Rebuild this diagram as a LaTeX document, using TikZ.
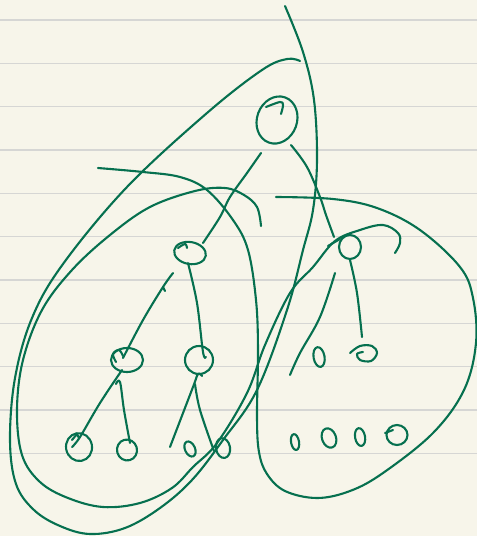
\documentclass[tikz,border=0pt]{standalone}
\definecolor{paper}{HTML}{F7F5EA}
\definecolor{rule}{HTML}{D6D6D4}
\definecolor{ink}{HTML}{06704F}
\begin{document}
\begin{tikzpicture}[x=1pt,y=-1pt,
  inkline/.style={draw=ink,line width=2.1pt,line cap=round,line join=round},
  ruleline/.style={draw=rule,line width=1.4pt},
  curve/.style={smooth,tension=0.6}]
\fill[paper] (0,0) rectangle (477,536);
\useasboundingbox (0,0) rectangle (477,536);
% ruled paper
\foreach \yy in {20,63.3,106.7,150,193.3,236.7,280,323.3,366.7,410,453.3}
  \draw[ruleline] (0,\yy) -- (477,\yy);

% node centres
\coordinate (root) at (277,120);
\coordinate (l1) at (190,253);
\coordinate (r1) at (350,247);
\coordinate (ll) at (127,360);
\coordinate (lr) at (199,360);
\coordinate (rl) at (319,357);
\coordinate (rr) at (365,354);
\coordinate (a1) at (79,447);
\coordinate (a2) at (127,450);
\coordinate (a3) at (190,449);
\coordinate (a4) at (223,448);
\coordinate (b1) at (295,442);
\coordinate (b2) at (329,438);
\coordinate (b3) at (360,437);
\coordinate (b4) at (397,435);

% nodes
\draw[inkline,rotate around={-20:(root)}] (root) ellipse [x radius=20, y radius=24];
\draw[inkline] plot[curve] coordinates {(266,107) (280,102) (283,105) (281,114)};
\draw[inkline,rotate around={-10:(l1)}] (l1) ellipse [x radius=16, y radius=11];
\draw[inkline] plot[curve] coordinates {(178,248) (185,244) (187,248)};
\draw[inkline] (r1) ellipse [x radius=11, y radius=12];
\draw[inkline] (328,246) -- (340,239);
\draw[inkline] (ll) ellipse [x radius=16, y radius=12];
\draw[inkline] plot[curve] coordinates {(116,362) (113,354) (119,350) (123,356)};
\draw[inkline] (lr) ellipse [x radius=14, y radius=14];
\draw[inkline,rotate around={10:(rl)}] (rl) ellipse [x radius=5.5, y radius=10];
\draw[inkline] plot[curve] coordinates {(350,353) (360,346) (372,346) (377,353) (371,361) (360,360) (357,354) (363,352)};
\draw[inkline,rotate around={10:(a1)}] (a1) ellipse [x radius=13, y radius=14];
\draw[inkline] (72,440) -- (77,434) -- (79,438);
\draw[inkline,rotate around={15:(a2)}] (a2) ellipse [x radius=10, y radius=10.5];
\draw[inkline,rotate around={25:(a3)}] (a3) ellipse [x radius=5, y radius=8];
\draw[inkline,rotate around={10:(a4)}] (a4) ellipse [x radius=7, y radius=10];
\draw[inkline,rotate around={10:(b1)}] (b1) ellipse [x radius=4, y radius=8];
\draw[inkline,rotate around={20:(b2)}] (b2) ellipse [x radius=7, y radius=10];
\draw[inkline,rotate around={10:(b3)}] (b3) ellipse [x radius=5, y radius=9];
\draw[inkline] (b4) ellipse [x radius=10.5, y radius=10];
\draw[inkline] (385,433) -- (393,430);

% tree edges
\draw[inkline] plot[curve] coordinates {(261,153) (247,173) (230,197) (220,217) (203,243)};
\draw[inkline] plot[curve] coordinates {(291,145) (307,167) (320,197) (326,215) (334,237)};
\draw[inkline] plot[curve] coordinates {(173,273) (163,287) (143,320) (123,358)};
\draw[inkline] (163,287) -- (165,291);
\draw[inkline] plot[curve] coordinates {(188,263) (197,303) (203,352) (206,357)};
\draw[inkline] plot[curve] coordinates {(122,370) (100,403) (80,437) (72,447)};
\draw[inkline] plot[curve] coordinates {(116,384) (120,382) (124,410) (130,443)};
\draw[inkline] plot[curve] coordinates {(202,376) (198,374) (193,387) (170,447)};
\draw[inkline] plot[curve] coordinates {(195,384) (200,410) (214,451)};
\draw[inkline] plot[curve] coordinates {(335,273) (320,317) (300,353) (290,375)};
\draw[inkline] plot[curve] coordinates {(350,260) (357,293) (362,337)};

% outer loop with the long stroke
\draw[inkline] plot[curve] coordinates {(300,61) (287,59) (262,70) (207,113) (127,187) (63,264) (32,318) (15,378) (10,440) (16,484) (34,510) (60,526) (90,534) (125,528) (160,508) (192,480) (223,440) (257,390) (287,310) (303,250) (313,210) (317,160) (314,100) (303,52) (285,6)};
% inner loop
\draw[inkline] plot[curve] coordinates {(261,226) (257,207) (244,195) (225,188) (195,191) (150,207) (110,235) (72,270) (42,310) (23,360) (17,410) (22,455) (40,482) (68,498) (103,507) (140,503) (172,488) (193,467) (217,443) (247,393) (265,345) (290,293) (313,267) (335,241) (360,230) (383,225) (398,233) (400,243) (395,253)};
% right loop
\draw[inkline] plot[curve] coordinates {(98,168) (143,172) (180,177) (207,190) (233,220) (248,250) (256,300) (258,350) (257,417) (259,452) (267,474) (285,491) (317,498) (350,491) (383,473) (433,433) (464,390) (476,343) (473,298) (460,267) (420,230) (377,208) (333,199) (276,197)};
\end{tikzpicture}
\end{document}
